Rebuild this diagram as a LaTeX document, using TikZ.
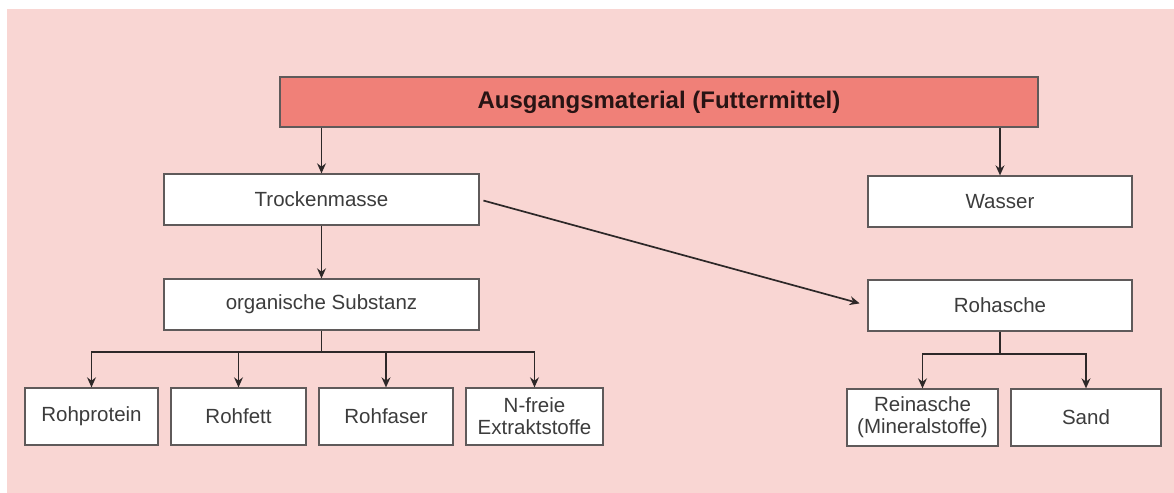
\documentclass[tikz,border=0pt]{standalone}
\usepackage{fontspec}
\setmainfont{Liberation Sans}
\usetikzlibrary{arrows.meta}
\definecolor{bgpink}{RGB}{249,214,211}
\definecolor{salmon}{RGB}{240,128,120}
\definecolor{boxline}{RGB}{95,90,90}
\definecolor{txt}{RGB}{60,60,60}
\definecolor{headtxt}{RGB}{40,20,20}
\definecolor{arr}{RGB}{45,40,40}
\begin{document}
\begin{tikzpicture}[x=0.5pt,y=-0.5pt,
  box/.style={draw=boxline, line width=0.6pt, fill=white, inner sep=0pt, align=center,
    text=txt, font=\fontsize{10.25}{11}\selectfont},
  headbox/.style={draw=boxline, line width=0.6pt, fill=salmon, inner sep=0pt,
    text=headtxt, font=\fontsize{12}{14}\selectfont\bfseries},
  conn/.style={draw=arr, line width=0.85pt},
  arrowc/.style={conn, -{Stealth[length=5pt,width=4.4pt]}}]
\useasboundingbox (0,0) rectangle (1174,493);
\fill[white] (0,0) rectangle (1174,493);
\fill[bgpink] (7,9) rectangle (1174,493);

\node[headbox, minimum width=379pt, minimum height=25pt] (top) at (659,102) {Ausgangsmaterial (Futtermittel)};
\node[box, minimum width=157.5pt, minimum height=25.5pt] (trocken) at (321.5,199.5) {Trockenmasse};
\node[box, minimum width=132pt, minimum height=25.5pt] (wasser) at (1000,201.5) {Wasser};
\node[box, minimum width=157.5pt, minimum height=25.5pt] (organ) at (321.5,304.5) {organische Substanz};
\node[box, minimum width=132pt, minimum height=25.5pt] (rohasche) at (1000,305.5) {Rohasche};

\node[box, minimum width=66.5pt, minimum height=28.5pt] (rohprotein) at (91.5,416.5) {Rohprotein};
\node[box, minimum width=67.5pt, minimum height=28.5pt] (rohfett) at (238.5,416.5) {Rohfett};
\node[box, minimum width=67pt, minimum height=28.5pt] (rohfaser) at (386,416.5) {Rohfaser};
\node[box, minimum width=68.5pt, minimum height=28.5pt] (nfreie) at (534.5,416.5) {N-freie\\Extraktstoffe};
\node[box, minimum width=75.5pt, minimum height=28.5pt] (reinasche) at (922.5,417.5) {Reinasche\\(Mineralstoffe)};
\node[box, minimum width=75pt, minimum height=28.5pt] (sand) at (1086,417.5) {Sand};

\coordinate (forkA) at (321.5,352);
\coordinate (forkB) at (1000,354);

\draw[arrowc] (top.south -| trocken) -- (trocken.north);
\draw[arrowc] (top.south -| wasser) -- (wasser.north);
\draw[arrowc] (trocken.south) -- (organ.north);
\draw[arrowc, shorten <=2pt, shorten >=4pt] (trocken.east) -- (rohasche.west);

\draw[conn] (organ.south) -- (forkA);
\draw[arrowc] (forkA) -| (rohprotein.north);
\draw[arrowc] (forkA) -| (rohfett.north);
\draw[arrowc] (forkA) -| (rohfaser.north);
\draw[arrowc] (forkA) -| (nfreie.north);

\draw[conn] (rohasche.south) -- (forkB);
\draw[arrowc] (forkB) -| (reinasche.north);
\draw[arrowc] (forkB) -| (sand.north);
\end{tikzpicture}
\end{document}
